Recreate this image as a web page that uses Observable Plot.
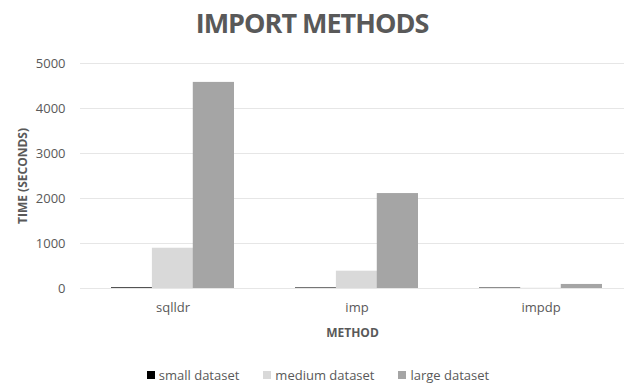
<!DOCTYPE html>
<html><head><meta charset="utf-8">
<script src="https://cdn.jsdelivr.net/npm/d3@7"></script>
<script src="https://cdn.jsdelivr.net/npm/@observablehq/plot@0.6"></script>
<style>
body{margin:0;background:#fff;font-family:"Open Sans",sans-serif;color:#595959;width:624px;height:383px;overflow:hidden}
#title{height:45px;text-align:center;font-weight:700;font-size:27px;letter-spacing:-1px;line-height:46px;box-sizing:border-box}
#chart svg{display:block}
g[aria-label="y-axis label"] text, g[aria-label="x-axis label"] text{font-weight:700;font-size:12px}
#legend{display:flex;justify-content:center;gap:24px;font-size:13px;line-height:14px;height:14px;margin-top:23px;margin-left:12px}
#legend span.sw{display:inline-block;width:8px;height:8px;margin-right:4px}
#legend div{display:flex;align-items:center}
</style></head>
<body>
<div id="title">IMPORT METHODS</div>
<div id="chart"></div>
<div id="legend"></div>
<script>
const methods = ["sqlldr", "imp", "impdp"];
const seriesNames = ["small dataset", "medium dataset", "large dataset"];
const small = [15, 12, 10];
const medium = [895, 385, 5];
const large = [4580, 2110, 90];
const yTicks = [0, 1000, 2000, 3000, 4000, 5000];
const colors = ["#000000", "#d9d9d9", "#a5a5a5"];

const seriesValues = [small, medium, large];
const rows = seriesValues.map((vals, s) => methods.map((m, i) => ({method: m, value: vals[i], series: seriesNames[s]})));

const pI = 1/3, pO = 1/6;
const range = [80, 632];
const step = (range[1] - range[0]) / (methods.length - pI + 2 * pO);
const third = step * (1 - pI) / 3;

const chart = Plot.plot({
  width: 624,
  height: 300,
  marginLeft: 80,
  marginRight: 0,
  marginTop: 18,
  marginBottom: 57,
  style: {fontFamily: "Open Sans", fontSize: "13px", color: "#595959", background: "#fff"},
  x: {domain: methods, range, paddingInner: pI, paddingOuter: pO, align: 0.5},
  y: {domain: [0, 5000]},
  marks: [
    Plot.gridY(yTicks, {stroke: "#e6e6e6", strokeOpacity: 1}),
    Plot.axisY(yTicks, {tickSize: 0, tickPadding: 15, tickFormat: d => String(d), label: "TIME (SECONDS)", labelAnchor: "center", labelOffset: 62, labelArrow: "none"}),
    Plot.axisX({tickSize: 0, tickPadding: 14, label: "METHOD", labelAnchor: "center", labelOffset: 48, labelArrow: "none"}),
    ...rows.map((data, s) => Plot.barY(data, {
      x: "method", y: "value", fill: colors[s],
      insetLeft: s * third, insetRight: (2 - s) * third
    }))
  ]
});
document.getElementById("chart").appendChild(chart);

const legend = document.getElementById("legend");
seriesNames.forEach((n, s) => {
  const d = document.createElement("div");
  d.innerHTML = `<span class="sw" style="background:${colors[s]}"></span>${n}`;
  legend.appendChild(d);
});
</script>
</body></html>
